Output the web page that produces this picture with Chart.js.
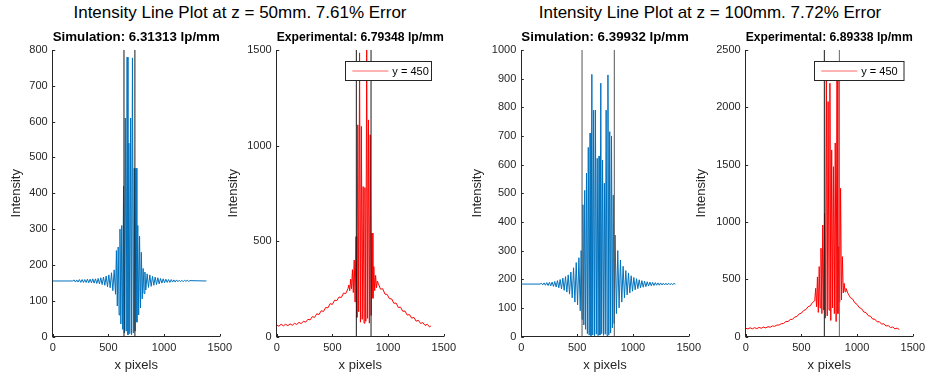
<!DOCTYPE html>
<html>
<head>
<meta charset="utf-8">
<script src="https://cdn.jsdelivr.net/npm/chart.js@4.4.1/dist/chart.umd.min.js"></script>
<style>
html, body { margin: 0; padding: 0; background: #fff; }
#fig { position: relative; width: 929px; height: 376px; overflow: hidden; font-family: "Liberation Sans", Arial, sans-serif; }
.sup { position: absolute; top: 3px; font-size: 17px; line-height: 20px; color: #000; white-space: nowrap; transform: translateX(-50%); }
canvas { position: absolute; top: 0; }
</style>
</head>
<body>
<div id="fig">
  <div class="sup" style="left:240px">Intensity Line Plot at z = 50mm. 7.61% Error</div>
  <div class="sup" style="left:710px">Intensity Line Plot at z = 100mm. 7.72% Error</div>
  <canvas id="c1"></canvas>
  <canvas id="c2"></canvas>
  <canvas id="c3"></canvas>
  <canvas id="c4"></canvas>
</div>
<script>
// tick labels
const xTicks = [0, 500, 1000, 1500];
const sim50Ticks = [0, 100, 200, 300, 400, 500, 600, 700, 800];
const exp50Ticks = [0, 500, 1000, 1500];
const sim100Ticks = [0, 100, 200, 300, 400, 500, 600, 700, 800, 900, 1000];
const exp100Ticks = [0, 500, 1000, 1500, 2000, 2500];

// z = 50mm, simulation
const sim50X = [0, 180,
  192, 204, 216, 228, 240, 252, 264, 276, 288, 300, 312, 324, 336, 348, 360, 372,
  384, 396, 408, 420, 432, 444, 456, 468, 480, 492, 504, 516, 528, 540, 552, 564,
  572, 580, 588, 596, 604, 612, 620, 628, 636, 644, 652, 660, 668, 676, 684, 692,
  700, 708, 716, 724, 732, 740, 748, 756, 764, 772, 780, 788, 796, 804, 812, 820, 828, 836,
  848, 860, 872, 884, 896, 908, 920, 932, 944, 956, 968, 980, 992, 1004, 1016, 1028,
  1040, 1052, 1064, 1076, 1088, 1100, 1112, 1124, 1136, 1148, 1160, 1172, 1184, 1196, 1208, 1220, 1232,
  1380];
const sim50Y = [155, 155,
  158, 152, 158, 152, 159, 151, 159, 151, 159, 151, 160, 150, 160, 150, 161, 149,
  161, 148, 162, 147, 164, 145, 166, 143, 169, 139, 172, 136, 178, 128, 186, 118,
  240, 85, 250, 60, 300, 35, 310, 20, 420, 10, 610, 15, 780, 5, 540, 8,
  610, 5, 778, 10, 470, 15, 470, 40, 310, 60, 280, 80, 235, 105, 190, 120, 180, 130,
  175, 137, 172, 140, 168, 143, 166, 145, 164, 147, 162, 149, 161, 150, 160, 151,
  159, 151, 159, 152, 158, 152, 158, 153, 157, 153, 157, 153, 157, 154, 157, 154, 156,
  155];
const sim50Lines = [640, 738];

// z = 50mm, experimental
const exp50X = [0, 20, 40, 60, 80, 100, 120, 140, 160, 180, 200, 220, 240, 260, 280, 300,
  320, 340, 360, 380, 400, 420, 440, 460, 480, 500, 520, 540, 560, 580, 600, 620, 640,
  648, 656, 664, 672, 680, 688, 696, 704, 712, 720, 728, 736, 744, 752, 760, 768,
  776, 784, 792, 800, 808, 816, 824, 832, 840, 848, 856, 864, 872, 880, 888, 896, 904,
  912, 932, 952, 972, 992, 1012, 1032, 1052, 1072, 1092, 1112, 1132, 1152, 1172, 1192,
  1212, 1232, 1252, 1272, 1292, 1312, 1332, 1352, 1372, 1384];
const exp50Y = [60, 54, 64, 56, 64, 57, 66, 59, 69, 63, 74, 67, 80, 75, 90, 87,
  104, 100, 119, 115, 135, 131, 152, 150, 172, 168, 190, 188, 207, 204, 227, 225, 250,
  270, 240, 300, 250, 350, 230, 400, 180, 523, 100, 1108, 130, 1485, 75, 1100, 90,
  785, 70, 780, 80, 1560, 95, 1134, 70, 1056, 110, 542, 200, 366, 240, 320, 255, 290,
  278, 248, 250, 222, 220, 198, 197, 174, 175, 152, 153, 132, 133, 112, 115,
  96, 100, 80, 85, 68, 73, 58, 64, 50, 55];
const exp50Lines = [715, 847];

// z = 100mm, simulation
const sim100X = [0, 168,
  180, 192, 204, 216, 228, 240, 252, 264, 276, 288, 300, 312, 324, 336, 348,
  360, 372, 384, 396, 408, 420, 432, 444, 456, 468, 480, 492, 504, 516, 528,
  536, 544, 552, 560, 568, 576, 584, 592, 600, 608, 616, 624, 632, 640, 648, 656,
  664, 672, 680, 688, 696, 704, 712, 720, 728, 736, 744, 752, 760, 768, 776, 784,
  792, 800, 808, 816, 824, 832, 840,
  852, 864, 876, 888, 900, 912, 924, 936, 948, 960, 972, 984, 996, 1008, 1020,
  1032, 1044, 1056, 1068, 1080, 1092, 1104, 1116, 1128, 1140, 1152, 1164, 1176, 1188,
  1200, 1212, 1224, 1236, 1248, 1260, 1272, 1284, 1296, 1308, 1320, 1332, 1344, 1356, 1368, 1380];
const sim100Y = [183, 183,
  186, 180, 187, 179, 188, 178, 189, 177, 190, 175, 192, 173, 195, 170, 199,
  166, 204, 161, 209, 155, 215, 148, 225, 135, 240, 120, 258, 110, 275, 90,
  300, 60, 460, 40, 510, 25, 570, 10, 660, 5, 710, 3, 915, 5, 790, 2,
  790, 8, 622, 3, 630, 5, 884, 10, 616, 4, 535, 8, 790, 3, 913, 6,
  715, 12, 700, 30, 494, 45, 354,
  80, 300, 100, 267, 120, 245, 135, 230, 145, 222, 152, 212, 158, 206, 163,
  202, 167, 198, 170, 195, 172, 193, 174, 191, 176, 190, 177, 189, 178,
  188, 179, 187, 179, 187, 180, 186, 180, 186, 180, 186, 181, 185, 181, 185, 183];
const sim100Lines = [544, 833];

// z = 100mm, experimental
const exp100X = [0, 20, 40, 60, 80, 100, 120, 140, 160, 180, 200, 220, 240, 260, 280, 300,
  320, 340, 360, 380, 400, 420, 440, 460, 480, 500, 520, 540, 560, 580, 600, 620,
  628, 636, 644, 652, 660, 668, 676, 684, 692, 700, 708, 716, 724, 732, 740, 748,
  756, 764, 772, 780, 788, 796, 804, 812, 820, 828, 836, 844, 852, 860, 868, 876, 884, 892, 900,
  920, 940, 960, 980, 1000, 1020, 1040, 1060, 1080, 1100, 1120, 1140, 1160, 1180,
  1200, 1220, 1240, 1260, 1280, 1300, 1320, 1340, 1360, 1380];
const exp100Y = [72, 66, 76, 67, 77, 69, 79, 72, 82, 75, 86, 81, 92, 89, 100, 100,
  112, 114, 130, 131, 148, 150, 170, 175, 197, 204, 227, 235, 260, 268, 297, 312,
  420, 260, 520, 210, 610, 250, 770, 200, 973, 230, 1075, 160, 2400, 180, 2050, 230,
  2210, 140, 1628, 250, 1482, 200, 1689, 130, 2380, 200, 784, 300, 1293, 320, 697, 380, 464, 390, 420,
  373, 339, 327, 294, 280, 252, 243, 214, 209, 182, 177, 152, 151, 128,
  129, 108, 111, 92, 95, 78, 83, 67, 73, 60];
const exp100Lines = [706, 841];

const FONT = '"Liberation Sans", Arial, sans-serif';
const AXIS = '#262626';

// MATLAB style ticks pointing into the axes
const inwardTicks = {
  id: 'inwardTicks',
  afterDraw(chart) {
    const { ctx, chartArea: a, scales: { x, y } } = chart;
    ctx.save();
    ctx.strokeStyle = AXIS;
    ctx.lineWidth = 1;
    ctx.beginPath();
    x.ticks.forEach(t => {
      const p = Math.round(x.getPixelForValue(t.value)) + 0.5;
      ctx.moveTo(p, a.bottom); ctx.lineTo(p, a.bottom - 2.5);
    });
    y.ticks.forEach(t => {
      const p = Math.round(y.getPixelForValue(t.value)) + 0.5;
      ctx.moveTo(a.left, p); ctx.lineTo(a.left + 2.5, p);
    });
    ctx.stroke();
    ctx.restore();
  }
};

// legend box inside the axes (northeast)
const boxLegend = {
  id: 'boxLegend',
  afterDraw(chart, args, opts) {
    if (!opts.show) return;
    const ds = chart.data.datasets.find(d => d.label);
    const { ctx, chartArea: a } = chart;
    const w = opts.width, h = 19;
    const bx = a.right - opts.right - w, by = a.top + opts.top;
    ctx.save();
    ctx.fillStyle = '#fff';
    ctx.fillRect(bx, by, w, h);
    ctx.strokeStyle = AXIS;
    ctx.lineWidth = 1;
    ctx.strokeRect(Math.round(bx) + 0.5, Math.round(by) + 0.5, w, h);
    ctx.strokeStyle = 'rgba(255,0,0,0.6)';
    ctx.beginPath();
    ctx.moveTo(bx + 7, by + h / 2 + 0.5);
    ctx.lineTo(bx + 43, by + h / 2 + 0.5);
    ctx.stroke();
    ctx.fillStyle = '#000';
    ctx.font = '11px ' + FONT;
    ctx.textBaseline = 'middle';
    ctx.fillText(ds.label, bx + 47, by + h / 2 + 1);
    ctx.restore();
  }
};

const makePlot = (id, left, yWidth, title, xs, ys, color, yTicks, lines, lineColors, legend) => {
  const canvas = document.getElementById(id);
  canvas.width = yWidth + 170 + 15;
  canvas.height = 376;
  canvas.style.left = left + 'px';
  const yMax = yTicks[yTicks.length - 1];

  const markerSets = lines.map((v, i) => ({
    data: [{ x: v, y: 0 }, { x: v, y: yMax }],
    borderColor: lineColors[i], borderWidth: 1, pointRadius: 0, order: 0
  }));

  new Chart(canvas.getContext('2d'), {
    type: 'line',
    data: {
      datasets: [...markerSets, {
        label: 'y = 450',
        data: xs.map((x, i) => ({ x, y: ys[i] })),
        borderColor: color, borderWidth: 1, pointRadius: 0, tension: 0, order: 1
      }]
    },
    options: {
      responsive: false,
      animation: false,
      devicePixelRatio: 1,
      layout: { padding: { left: 0, right: 15, top: 0, bottom: 0 } },
      plugins: {
        legend: { display: false },
        tooltip: { enabled: false },
        title: {
          display: true, text: title, fullSize: false, color: '#000',
          font: { family: FONT, size: 13.5, weight: 'bold' },
          padding: { top: 29.2, bottom: 4.6 }
        },
        boxLegend: legend
      },
      scales: {
        x: {
          type: 'linear', min: 0, max: 1500,
          afterBuildTicks: s => { s.ticks = xTicks.map(v => ({ value: v })); },
          afterFit: s => { s.height = 39.5; },
          grid: { display: false, drawTicks: false },
          border: { display: true, color: AXIS, width: 1 },
          ticks: { color: AXIS, padding: 5, font: { family: FONT, size: 11 }, callback: v => String(v), maxRotation: 0 },
          title: { display: true, text: 'x pixels', color: AXIS, font: { family: FONT, size: 13 }, padding: { top: 0, bottom: 3 } }
        },
        y: {
          type: 'linear', min: 0, max: yMax,
          afterBuildTicks: s => { s.ticks = yTicks.map(v => ({ value: v })); },
          afterFit: s => { s.width = yWidth; },
          grid: { display: false, drawTicks: false },
          border: { display: true, color: AXIS, width: 1 },
          ticks: { color: AXIS, padding: 5, font: { family: FONT, size: 11 }, callback: v => String(v) },
          title: { display: true, text: 'Intensity', color: AXIS, font: { family: FONT, size: 13 }, padding: { top: 0, bottom: 0 } }
        }
      }
    },
    plugins: [inwardTicks, boxLegend]
  });
};

makePlot('c1', 9, 43.7, 'Simulation: 6.31313 lp/mm', sim50X, sim50Y, '#0072BD',
  sim50Ticks, sim50Lines, ['#1a1a1a', '#1a1a1a'], { show: false });
makePlot('c2', 226, 50.7, 'Experimental: 6.79348 lp/mm', exp50X, exp50Y, '#FF0000',
  exp50Ticks, exp50Lines, ['#1a1a1a', '#1a1a1a'], { show: true, top: 11, right: 12.4, width: 86 });
makePlot('c3', 470, 51.3, 'Simulation: 6.39932 lp/mm', sim100X, sim100Y, '#0072BD',
  sim100Ticks, sim100Lines, ['#555555', '#555555'], { show: false });
makePlot('c4', 694, 51.7, 'Experimental: 6.89338 lp/mm', exp100X, exp100Y, '#FF0000',
  exp100Ticks, exp100Lines, ['#1a1a1a', '#666666'], { show: true, top: 11, right: 9, width: 89.5 });
</script>
</body>
</html>
